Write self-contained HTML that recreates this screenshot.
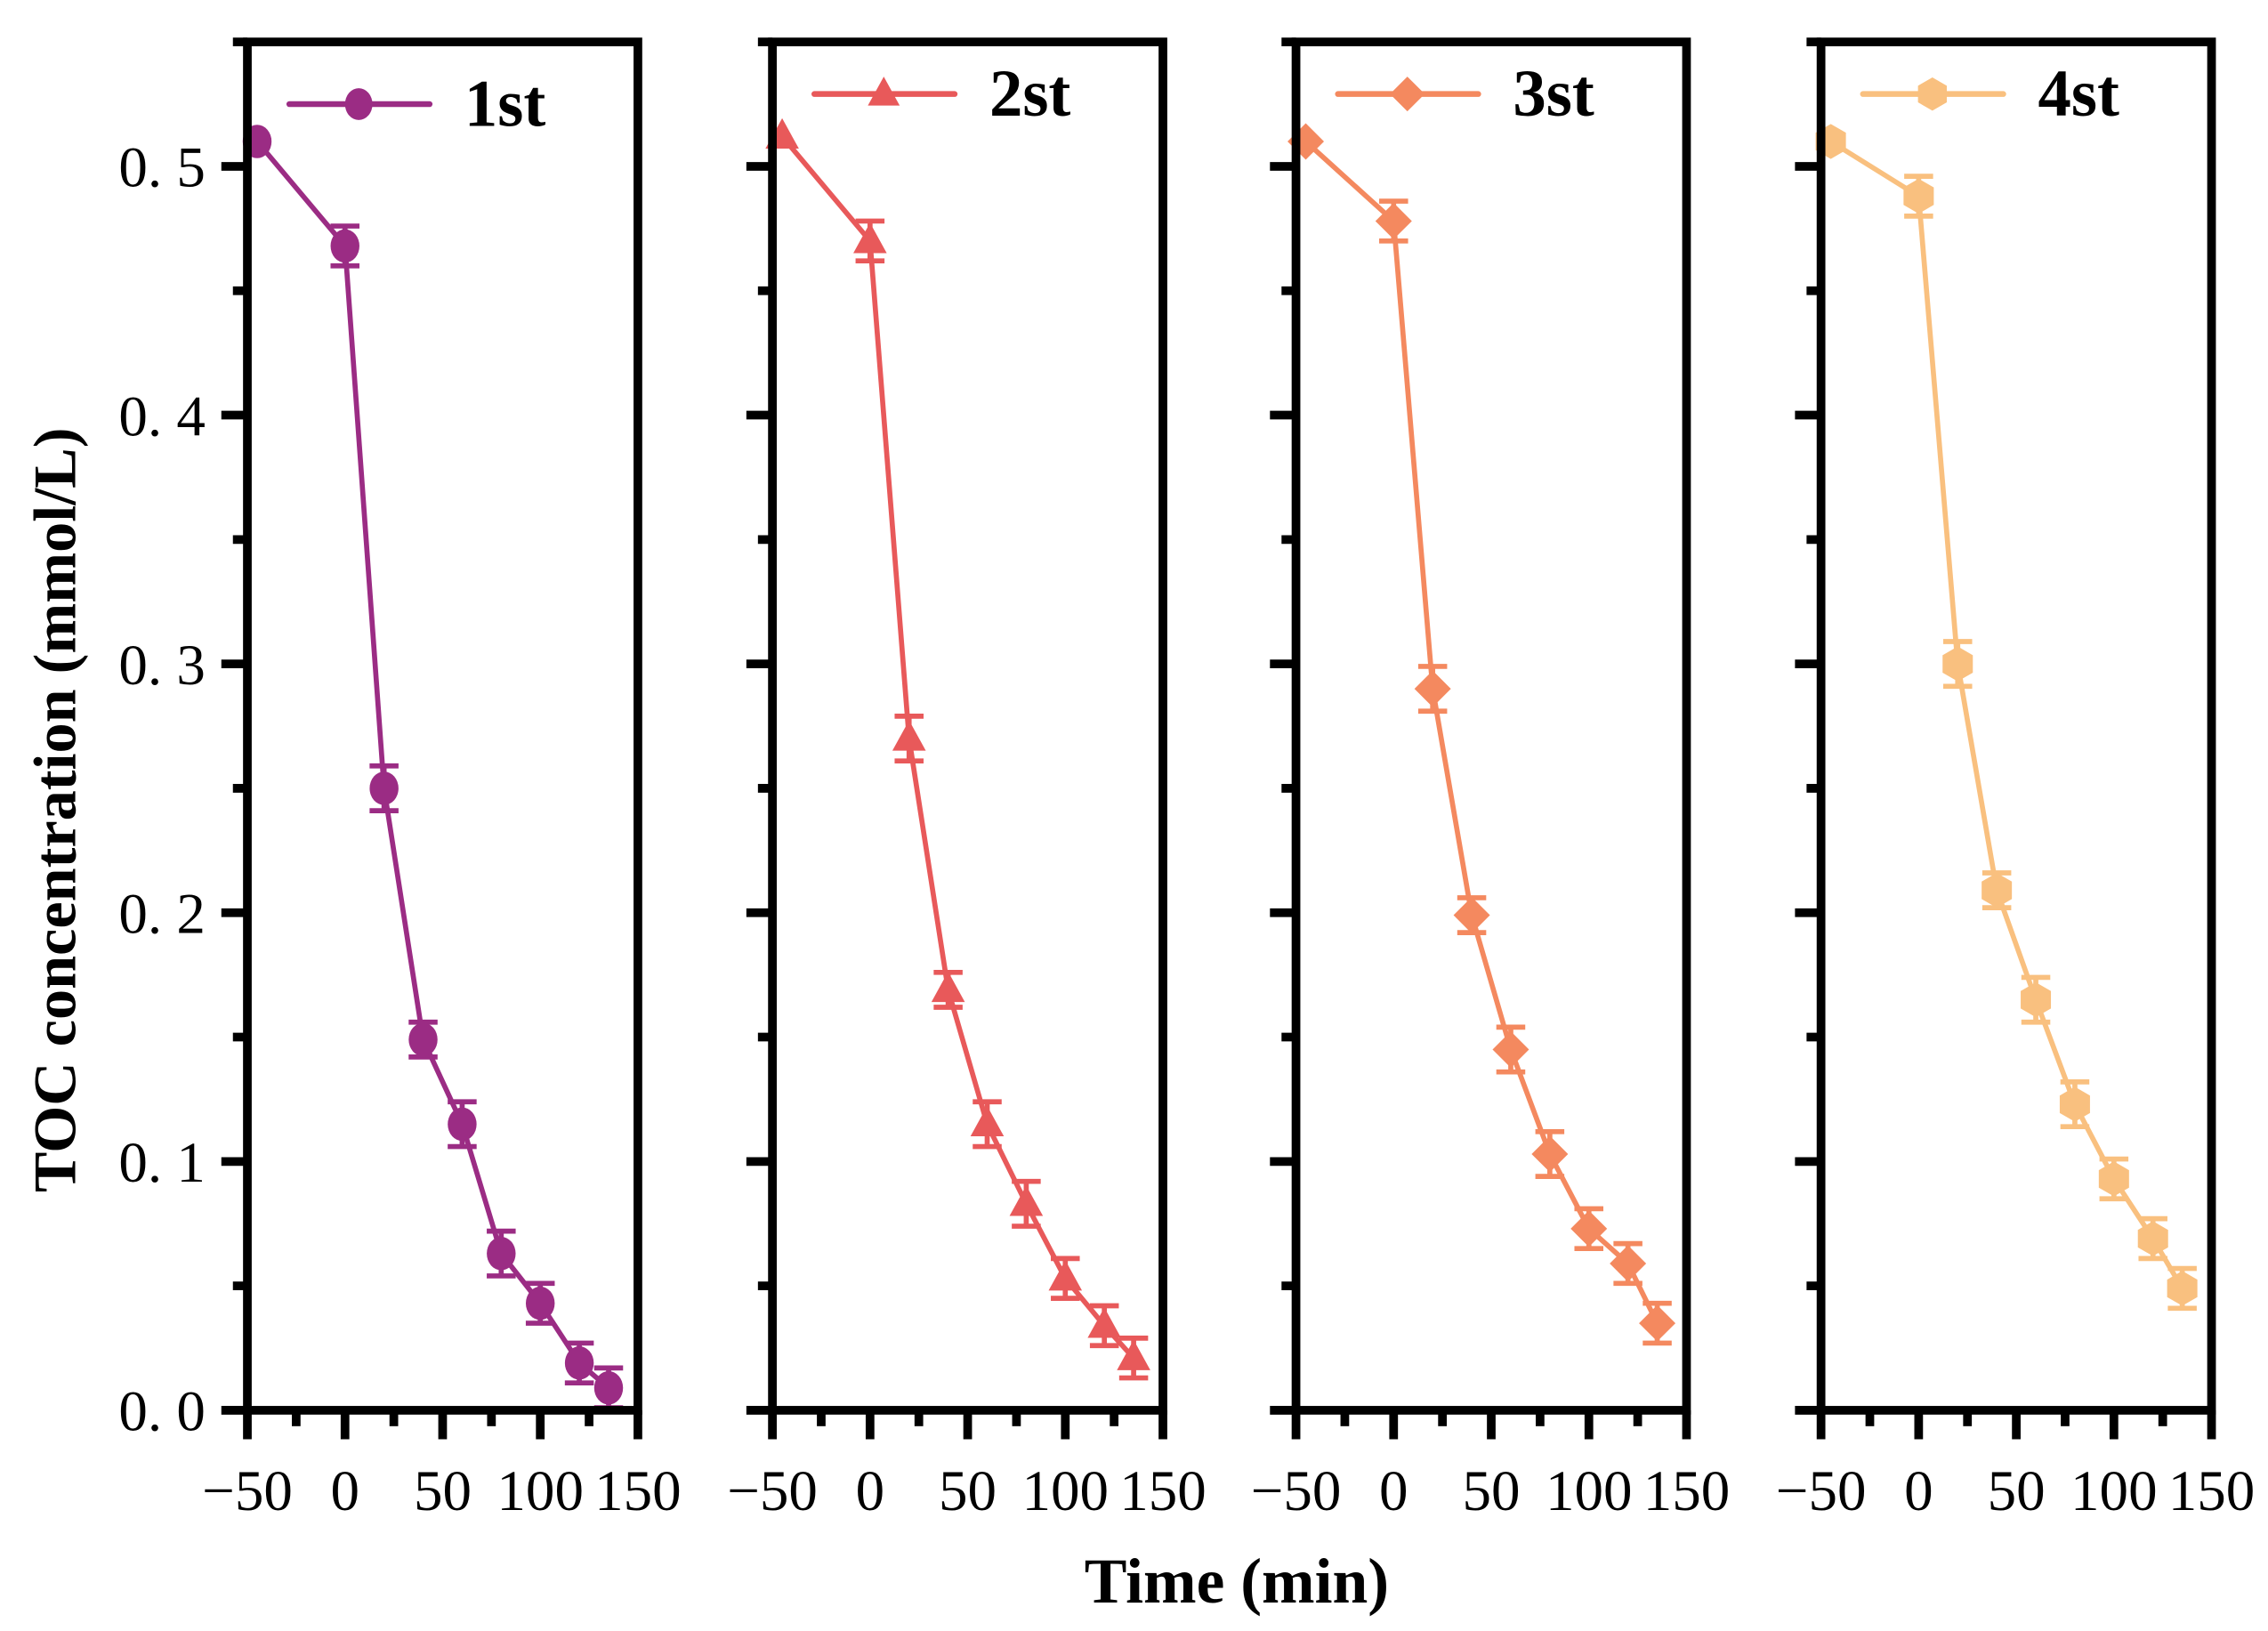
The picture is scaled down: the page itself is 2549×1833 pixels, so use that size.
<!DOCTYPE html>
<html><head><meta charset="utf-8"><style>
html,body{margin:0;padding:0;background:#fff;}
svg{display:block;}
text{font-family:"Liberation Serif",serif;}
</style></head><body>
<svg id="chart" width="2549" height="1833" viewBox="0 0 1568 1127.6" xmlns="http://www.w3.org/2000/svg">
<text transform="translate(52,560) rotate(-90)" text-anchor="middle" font-size="42" font-weight="bold">TOC concentration (mmol/L)</text>
<text x="855" y="1108" text-anchor="middle" font-size="44" font-weight="bold">Time (min)</text>
</svg>
<script>
const times = [-45, 0, 20, 40, 60, 80, 100, 120, 135];
const run1 = [0.51, 0.468, 0.25, 0.149, 0.115, 0.063, 0.043, 0.019, 0.009];
const run2 = [0.512, 0.47, 0.27, 0.169, 0.115, 0.083, 0.053, 0.034, 0.021];
const run3 = [0.51, 0.478, 0.29, 0.199, 0.145, 0.103, 0.073, 0.059, 0.035];
const run4 = [0.51, 0.488, 0.30, 0.209, 0.165, 0.123, 0.093, 0.069, 0.049];
const errs = [0, 0.008, 0.009, 0.007, 0.009, 0.009, 0.008, 0.008, 0.008];
const seriesNames = ["1st", "2st", "3st", "4st"];
const xTicks = [-50, 0, 50, 100, 150];
const yTicks = [0, 0.1, 0.2, 0.3, 0.4, 0.5];
const yTickLabels = ["0. 0", "0. 1", "0. 2", "0. 3", "0. 4", "0. 5"];

const NS = "http://www.w3.org/2000/svg";
const svg = document.getElementById("chart");
const colors = ["#9b2c84", "#e8595a", "#f4895f", "#f9c07f"];
const panelLefts = [171, 534, 896, 1259];
const panelW = 270, plotTop = 29, plotBottom = 975;
const allRuns = [run1, run2, run3, run4];
function yScale(v){ return plotBottom - (v / 0.55) * (plotBottom - plotTop); }
function mk(tag, attrs, parent){ const e = document.createElementNS(NS, tag); for (const k in attrs) e.setAttribute(k, attrs[k]); (parent||svg).appendChild(e); return e; }
function marker(g, kind, cx, cy, col, s){
  if (kind === 0) return mk("ellipse", {cx:cx, cy:cy, rx:s*0.95, ry:s*1.1, fill:col}, g);
  if (kind === 1) return mk("polygon", {points:`${cx},${cy-s*1.2} ${cx-s*1.1},${cy+s*0.8} ${cx+s*1.1},${cy+s*0.8}`, fill:col}, g);
  if (kind === 2) return mk("polygon", {points:`${cx},${cy-s*1.2} ${cx+s*1.2},${cy} ${cx},${cy+s*1.2} ${cx-s*1.2},${cy}`, fill:col}, g);
  const p=[]; for(let i=0;i<6;i++){const a=Math.PI/6+i*Math.PI/3; p.push((cx+s*1.15*Math.cos(a))+","+(cy+s*1.15*Math.sin(a)));}
  return mk("polygon", {points:p.join(" "), fill:col}, g);
}
allRuns.forEach((data, pi) => {
  const L = panelLefts[pi], col = colors[pi];
  const xScale = t => L + (t + 50) / 200 * panelW;
  const g = mk("g", {});
  
  
  const pts = times.map((t,i)=>xScale(t)+","+yScale(data[i])).join(" ");
  const line = mk("polyline", {points:pts, fill:"none", stroke:col, "stroke-width":3.5}, g);
  
  
  times.forEach((t,i)=>{
    const x = xScale(t), y = yScale(data[i]), e = errs[i];
    if (e > 0) {
      const y1 = yScale(data[i]+e), y2 = yScale(data[i]-e);
      const eb = mk("path", {d:`M${x},${y1}V${y2}M${x-10},${y1}H${x+10}M${x-10},${y2}H${x+10}`, stroke:col, "stroke-width":3.5, fill:"none"}, g);
      
      
    }
    const m = marker(g, pi, x, y, col, 10.5);
    
    
  });
  const fr = mk("rect", {x:L, y:plotTop, width:panelW, height:plotBottom-plotTop, fill:"none", stroke:"#000", "stroke-width":6}, g);
  
  
  for (let t=-50; t<=150; t+=25) {
    const x = xScale(t), major = (t % 50 === 0);
    mk("line", {x1:x, y1:plotBottom, x2:x, y2:plotBottom+(major?20:11), stroke:"#000", "stroke-width":6}, g);
  }
  xTicks.forEach(t=>{
    const tx = mk("text", {x:xScale(t), y:1044, "text-anchor":"middle", "font-size":40}, g);
    tx.textContent = t < 0 ? "\u2212" + Math.abs(t) : String(t);
    
    
  });
  for (let k=0;k<=11;k++){
    const v = k*0.05, y = yScale(v), major = (k%2===0);
    mk("line", {x1:L, y1:y, x2:L-(major?18:10), y2:y, stroke:"#000", "stroke-width":6}, g);
  }
  if (pi === 0) {
    yTicks.forEach((v,i)=>{
      const ty = mk("text", {x:142, y:yScale(v)+14, "text-anchor":"end", "font-size":40}, g);
      ty.textContent = yTickLabels[i];
      
      
    });
  }
  const lg = mk("g", {}, g);
  
  
  const ly = pi === 0 ? 72 : 65;
  mk("line", {x1:L+29, y1:ly, x2:L+126, y2:ly, stroke:col, "stroke-width":4, "stroke-linecap":"round"}, lg);
  marker(lg, pi, L+77, ly, col, 10);
  const lt = mk("text", {x:L+150, y:ly+15, "font-size":46, "font-weight":"bold"}, lg);
  lt.textContent = seriesNames[pi];
});
</script>
</body></html>
